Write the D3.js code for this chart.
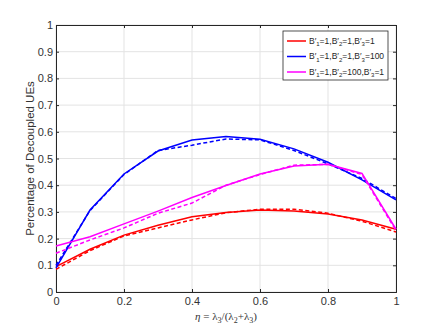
<!DOCTYPE html>
<html>
<head>
<meta charset="utf-8">
<script src="https://cdn.jsdelivr.net/npm/d3@7"></script>
<style>
  body { margin: 0; background: #fff; }
  text { font-family: "Liberation Sans", Arial, sans-serif; }
</style>
</head>
<body>
<div id="chart"></div>
<script>
// eta values (x) and tick labels
const etaValues = [0, 0.1, 0.2, 0.3, 0.4, 0.5, 0.6, 0.7, 0.8, 0.9, 1];
const xTicks = [0, 0.2, 0.4, 0.6, 0.8, 1];
const yTicks = [0, 0.1, 0.2, 0.3, 0.4, 0.5, 0.6, 0.7, 0.8, 0.9, 1];

// analysis (solid) and simulation (dashed)
const redSolid = [0.095, 0.16, 0.213, 0.25, 0.282, 0.298, 0.307, 0.303, 0.292, 0.27, 0.235];
const redDashed = [0.085, 0.155, 0.21, 0.24, 0.27, 0.297, 0.31, 0.31, 0.295, 0.265, 0.225];
const blueSolid = [0.09, 0.307, 0.442, 0.528, 0.569, 0.582, 0.572, 0.536, 0.486, 0.42, 0.345];
const blueDashed = [0.1, 0.305, 0.44, 0.53, 0.55, 0.573, 0.57, 0.53, 0.48, 0.425, 0.35];
const magentaSolid = [0.172, 0.207, 0.255, 0.303, 0.354, 0.399, 0.442, 0.472, 0.478, 0.444, 0.235];
const magentaDashed = [0.145, 0.195, 0.24, 0.295, 0.333, 0.4, 0.44, 0.475, 0.478, 0.44, 0.23];

const legendLabels = [
  ["1", "1", "1"],
  ["1", "1", "100"],
  ["1", "100", "1"]
];

const series = [
  { color: "#ff0000", solid: redSolid, dashed: redDashed },
  { color: "#0000ff", solid: blueSolid, dashed: blueDashed },
  { color: "#ff00ff", solid: magentaSolid, dashed: magentaDashed }
];

const width = 438, height = 329;
const margin = { top: 25, right: 42, bottom: 37, left: 56 };

const svg = d3.select("#chart")
    .append("svg")
    .attr("width", width)
    .attr("height", height);

const x = d3.scaleLinear().domain([0, 1]).range([margin.left, width - margin.right]);
const y = d3.scaleLinear().domain([0, 1]).range([height - margin.bottom, margin.top]);

// grid
svg.append("g")
    .selectAll("line")
    .data(xTicks)
    .enter().append("line")
    .attr("x1", d => x(d)).attr("x2", d => x(d))
    .attr("y1", y(0)).attr("y2", y(1))
    .attr("stroke", "#e3e3e3");

svg.append("g")
    .selectAll("line")
    .data(yTicks)
    .enter().append("line")
    .attr("x1", x(0)).attr("x2", x(1))
    .attr("y1", d => y(d)).attr("y2", d => y(d))
    .attr("stroke", "#e3e3e3");

// axes
const fmt = d => String(d);
const xAxis = svg.append("g")
    .attr("transform", `translate(0,${y(0)})`)
    .call(d3.axisBottom(x).tickValues(xTicks).tickFormat(fmt).tickSize(-3).tickPadding(5));
const yAxis = svg.append("g")
    .attr("transform", `translate(${x(0)},0)`)
    .call(d3.axisLeft(y).tickValues(yTicks).tickFormat(fmt).tickSize(-3).tickPadding(3));
const xTop = svg.append("g")
    .attr("transform", `translate(0,${y(1)})`)
    .call(d3.axisTop(x).tickValues(xTicks).tickFormat("").tickSize(-3));
const yRight = svg.append("g")
    .attr("transform", `translate(${x(1)},0)`)
    .call(d3.axisRight(y).tickValues(yTicks).tickFormat("").tickSize(-3));

[xAxis, yAxis, xTop, yRight].forEach(g => {
  g.select(".domain").attr("stroke", "#262626").attr("stroke-width", 1);
  g.selectAll(".tick line").attr("stroke", "#262626");
  g.selectAll("text").attr("fill", "#333").style("font-size", "11px")
      .style("font-family", "'Liberation Sans', Arial, sans-serif");
});

// lines
const line = d3.line()
    .x((d, i) => x(etaValues[i]))
    .y(d => y(d));

series.forEach(s => {
  svg.append("path")
      .attr("d", line(s.dashed))
      .attr("fill", "none")
      .attr("stroke", s.color)
      .attr("stroke-width", 1.5)
      .attr("stroke-dasharray", "4,2.5");
  svg.append("path")
      .attr("d", line(s.solid))
      .attr("fill", "none")
      .attr("stroke", s.color)
      .attr("stroke-width", 1.5);
});

// axis labels
svg.append("text")
    .attr("transform", `translate(34,${(y(0) + y(1)) / 2}) rotate(-90)`)
    .attr("text-anchor", "middle")
    .attr("fill", "#333")
    .style("font-size", "11.5px")
    .text("Percentage of Decoupled UEs");

const xl = svg.append("text")
    .attr("x", (x(0) + x(1)) / 2)
    .attr("y", 320)
    .attr("text-anchor", "middle")
    .attr("fill", "#333")
    .style("font-size", "11px")
    .style("font-family", "'Liberation Serif', 'Times New Roman', serif");
xl.append("tspan").style("font-style", "italic").text("η");
xl.append("tspan").text(" = λ");
xl.append("tspan").attr("dy", 3).style("font-size", "8px").text("3");
xl.append("tspan").attr("dy", -3).text("/(λ");
xl.append("tspan").attr("dy", 3).style("font-size", "8px").text("2");
xl.append("tspan").attr("dy", -3).text("+λ");
xl.append("tspan").attr("dy", 3).style("font-size", "8px").text("3");
xl.append("tspan").attr("dy", -3).text(")");

// legend
const legend = svg.append("g");
legend.append("rect")
    .attr("x", 283).attr("y", 31)
    .attr("width", 105).attr("height", 49)
    .attr("fill", "#fff")
    .attr("stroke", "#262626")
    .attr("stroke-width", 0.8);

legendLabels.forEach((lab, i) => {
  const ly = 41 + i * 15.5;
  legend.append("line")
      .attr("x1", 287).attr("x2", 306)
      .attr("y1", ly).attr("y2", ly)
      .attr("stroke", series[i].color)
      .attr("stroke-width", 1.5);
  const t = legend.append("text")
      .attr("x", 309).attr("y", ly + 2.5)
      .attr("fill", "#262626")
      .style("font-size", "8.5px");
  lab.forEach((v, k) => {
    t.append("tspan").text((k > 0 ? "," : "") + "B′");
    t.append("tspan").attr("dy", 2.5).style("font-size", "6px").text(String(k + 1));
    t.append("tspan").attr("dy", -2.5).text("=" + v);
  });
});
</script>
</body>
</html>
